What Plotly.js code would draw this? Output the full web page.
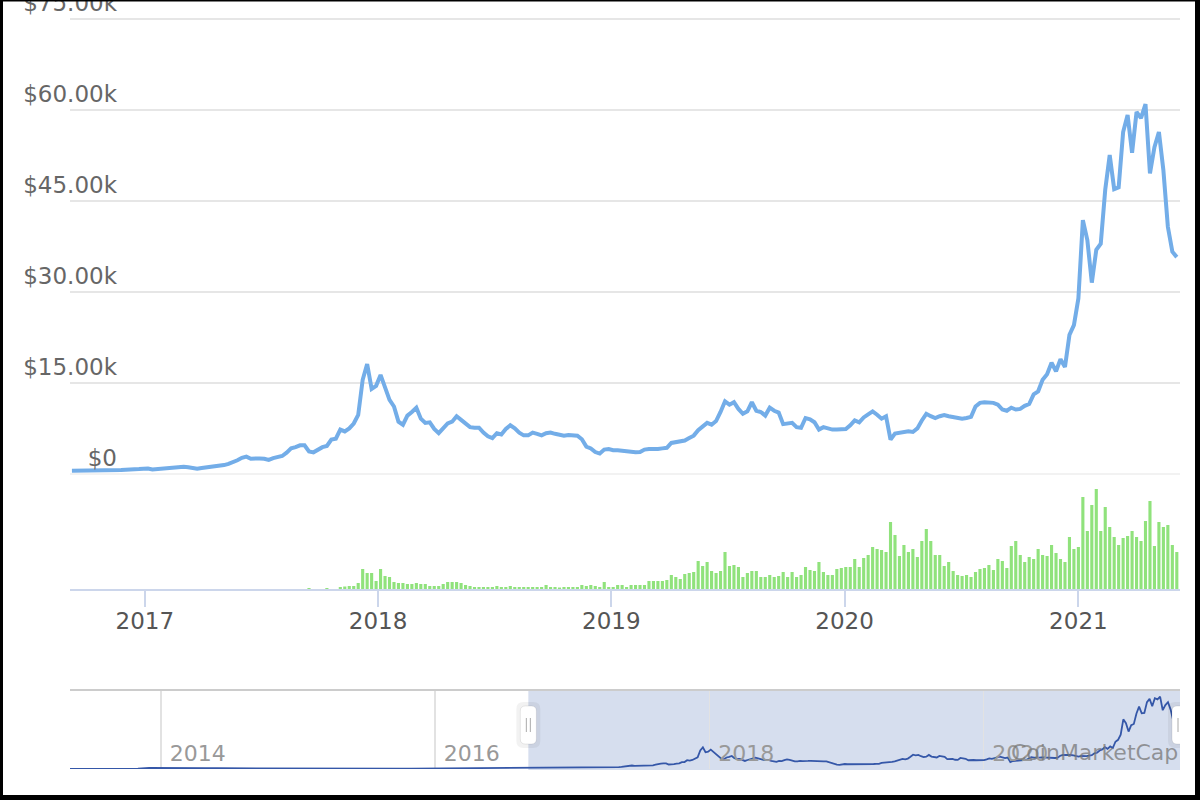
<!DOCTYPE html>
<html><head><meta charset="utf-8">
<script src="https://cdn.plot.ly/plotly-3.0.1.min.js"></script>
<style>html,body{margin:0;padding:0;background:#fff;}#chart{width:1200px;height:800px;}</style>
</head><body><div id="chart"></div>
<script>
// ---- data (weekly, starting Friday 2016-09-09) ----
const weekStart = '2016-09-09';
const price = [
  610, 607, 602, 609, 617, 640, 632, 690, 705, 715,
  750, 740, 770, 770, 785, 900, 965, 1000, 830, 900,
  920, 1010, 1000, 1050, 1180, 1260, 1200, 1100, 960, 1080,
  1180, 1200, 1250, 1400, 1550, 1750, 2000, 2350, 2750, 2950,
  2600, 2700, 2650, 2600, 2400, 2700, 2900, 3050, 3600, 4300,
  4500, 4800, 4800, 3800, 3650, 4100, 4500, 4700, 5750, 5900,
  7400, 7100, 7600, 8400, 9800, 15600, 18200, 14100, 14600, 16400,
  14500, 12300, 11200, 8700, 8200, 9700, 10300, 11000, 9200, 8500,
  8600, 7500, 6800, 7600, 8400, 8700, 9600, 9000, 8300, 7800,
  7700, 7700, 6900, 6300, 6000, 6800, 6600, 7500, 8100, 7600,
  6900, 6450, 6450, 6900, 6700, 6450, 6800, 6900, 6700, 6500,
  6400, 6500, 6450, 6400, 5800, 4600, 4300, 3700, 3450, 4100,
  4200, 4000, 4000, 3900, 3800, 3700, 3650, 3700, 4100, 4200,
  4150, 4200, 4300, 4400, 5200, 5300, 5500, 5600, 6000, 6400,
  7300, 8000, 8500, 8200, 8800, 10300, 12050, 11500, 11900, 10800,
  10000, 10400, 11900, 10500, 10300, 9700, 11000, 10500, 10200, 8300,
  8400, 8500, 7800, 7700, 9300, 9100, 8600, 7400, 7800, 7600,
  7400, 7400, 7400, 7500, 8100, 8900, 8600, 9400, 9900, 10400,
  9850, 9200, 9600, 5750, 6750, 6900, 7100, 7100, 7000, 7600,
  8900, 10000, 9600, 9300, 9600, 9800, 9600, 9500, 9300, 9200,
  9300, 9500, 11200, 11800, 11900, 11900, 11800, 11500, 10700, 10500,
  11000, 10700, 10800, 11300, 11600, 13200, 13700, 15600, 16500, 18400,
  17000, 19000, 17700, 23000, 24600, 29000, 41900, 38600, 31600, 37000,
  38000, 46900, 52600, 47000, 47300, 56400, 59200, 53000, 59700, 58700,
  61000, 49600, 53900, 56400, 50100, 40800, 36700, 35800
];
// relative weekly volume (no axis in the reference)
const volume = [
  0, 0, 0, 0, 0, 0, 0, 0, 0, 0,
  0, 0, 0, 0, 0, 0, 0, 0, 0, 0,
  0, 0, 0, 0, 0, 0, 0, 0, 0, 0,
  0, 0, 0, 0, 0, 0, 0, 0, 0, 0,
  0, 0, 0, 0, 0, 0, 0, 0, 0, 0,
  0, 0, 0, 1, 0, 0, 0, 1, 0, 0,
  2, 2.5, 3, 3, 6, 20, 16, 16, 8, 20,
  13, 12, 7, 6, 6, 5, 5, 6, 5, 5,
  3, 3, 3, 5, 7, 7, 7, 6, 4, 3,
  2, 2, 2, 2, 2, 3, 2, 2, 3, 2,
  2, 2, 2, 2, 2, 2, 4, 2, 2, 1.5,
  2, 2, 2, 2, 4, 3, 4, 3, 2, 7,
  2, 2, 4, 4, 2, 4, 4, 4, 4, 8,
  8, 8, 8, 9, 14, 12, 10, 15, 16, 17,
  28, 23, 27, 18, 16, 18, 37, 23, 24, 22,
  12, 16, 18, 18, 12, 12, 14, 12, 13, 17,
  12, 17, 12, 14, 22, 19, 18, 27, 17, 14,
  14, 20, 21, 22, 22, 30, 22, 31, 34, 42,
  40, 39, 37, 67, 54, 33, 44, 37, 40, 32,
  48, 60, 48, 34, 34, 23, 27, 18, 14, 13,
  14, 12, 17, 20, 21, 24, 19, 30, 28, 21,
  43, 48, 34, 27, 32, 30, 40, 34, 33, 44,
  36, 30, 27, 52, 40, 42, 92, 58, 84, 100,
  58, 82, 62, 52, 44, 51, 53, 58, 52, 48,
  68, 88, 43, 67, 62, 64, 44, 37
];
// navigator history before the weekly series (monthly)
const earlyDates = ['2013-05-04','2013-06-01','2013-07-01','2013-08-01','2013-09-01','2013-10-01','2013-11-01','2013-12-01',
  '2014-01-01','2014-02-01','2014-03-01','2014-04-01','2014-05-01','2014-06-01','2014-07-01','2014-08-01','2014-09-01','2014-10-01','2014-11-01','2014-12-01',
  '2015-01-01','2015-02-01','2015-03-01','2015-04-01','2015-05-01','2015-06-01','2015-07-01','2015-08-01','2015-09-01','2015-10-01','2015-11-01','2015-12-01',
  '2016-01-01','2016-02-01','2016-03-01','2016-04-01','2016-05-01','2016-06-01','2016-07-01','2016-08-01'];
const earlyPrice = [115, 129, 97, 106, 135, 133, 200, 1000,
  830, 580, 460, 450, 630, 640, 590, 480, 390, 340, 380, 320,
  220, 255, 245, 235, 230, 265, 285, 230, 237, 315, 380, 430,
  370, 437, 416, 448, 531, 670, 625, 575];
const priceTicks = [0, 15000, 30000, 45000, 60000, 75000];
const priceTickText = ['$0', '$15.00k', '$30.00k', '$45.00k', '$60.00k', '$75.00k'];
const mainRange = ['2016-09-06', '2021-06-09'];
const navRange = ['2013-05-04', '2021-06-08'];
const brandText = 'CoinMarketCap';

// ---- helpers ----
function weekDates(start, n) {
  const t0 = Date.parse(start + 'T00:00:00Z');
  const out = [];
  for (let i = 0; i < n; i++) out.push(new Date(t0 + i * 7 * 86400000).toISOString().slice(0, 10));
  return out;
}
const dates = weekDates(weekStart, price.length);
const navDates = earlyDates.concat(dates);
const navPrice = earlyPrice.concat(price);

const W = 1200, H = 800;
const px = v => v / W;
const py = v => 1 - v / H;

const traces = [
  {type: 'bar', x: dates, y: volume, xaxis: 'x', yaxis: 'y2',
   marker: {color: '#90e27c', line: {width: 0}}, hoverinfo: 'skip'},
  {type: 'scatter', mode: 'lines', x: dates, y: price, xaxis: 'x', yaxis: 'y',
   line: {color: '#73ade8', width: 4, shape: 'linear'}, hoverinfo: 'skip', cliponaxis: false},
  {type: 'scatter', mode: 'lines', x: navDates, y: navPrice, xaxis: 'x3', yaxis: 'y3',
   line: {color: '#3557a8', width: 1.8}, hoverinfo: 'skip'}
];

function handle(xd) {
  const yc = py(725);
  return [
    {type: 'path', xref: 'x3', xsizemode: 'pixel', xanchor: xd, yref: 'paper', ysizemode: 'pixel', yanchor: yc,
     path: 'M -12 -16 Q -12 -23 -5 -23 L 5 -23 Q 12 -23 12 -16 L 12 16 Q 12 23 5 23 L -5 23 Q -12 23 -12 16 Z',
     fillcolor: 'rgba(0,0,0,0.05)', line: {width: 0}},
    {type: 'path', xref: 'x3', xsizemode: 'pixel', xanchor: xd, yref: 'paper', ysizemode: 'pixel', yanchor: yc,
     path: 'M -8 -14 Q -8 -19 -3 -19 L 3 -19 Q 8 -19 8 -14 L 8 14 Q 8 19 3 19 L -3 19 Q -8 19 -8 14 Z',
     fillcolor: '#ffffff', line: {color: 'rgba(0,0,0,0.08)', width: 1}},
    {type: 'line', xref: 'x3', xsizemode: 'pixel', xanchor: xd, x0: -2, x1: -2, yref: 'paper', ysizemode: 'pixel', yanchor: yc, y0: -7, y1: 7,
     line: {color: '#aaaaaa', width: 1}},
    {type: 'line', xref: 'x3', xsizemode: 'pixel', xanchor: xd, x0: 2, x1: 2, yref: 'paper', ysizemode: 'pixel', yanchor: yc, y0: -7, y1: 7,
     line: {color: '#aaaaaa', width: 1}}
  ];
}

const shapes = [
  // $0 grid line (Plotly omits the grid at the range edge)
  {type: 'line', xref: 'paper', yref: 'y', x0: px(70), x1: px(1180), y0: 0, y1: 0,
   line: {color: '#e6e6e6', width: 2}, layer: 'below'},
  {type: 'rect', xref: 'x3', yref: 'paper', x0: mainRange[0], x1: navRange[1], y0: py(770), y1: py(690),
   fillcolor: 'rgba(102,133,194,0.27)', line: {width: 0}, layer: 'below'},
  {type: 'line', xref: 'paper', yref: 'paper', x0: px(70), x1: px(1180), y0: py(690), y1: py(690),
   line: {color: '#cccccc', width: 2}},
  ...handle(mainRange[0]),
  ...handle(navRange[1]),
  // page frame
  {type: 'rect', xref: 'paper', yref: 'paper', x0: 0, x1: px(3), y0: 0, y1: 1, fillcolor: '#000', line: {width: 0}},
  {type: 'rect', xref: 'paper', yref: 'paper', x0: px(1195), x1: 1, y0: 0, y1: 1, fillcolor: '#000', line: {width: 0}},
  {type: 'rect', xref: 'paper', yref: 'paper', x0: 0, x1: 1, y0: py(1.5), y1: 1, fillcolor: '#000', line: {width: 0}},
  {type: 'rect', xref: 'paper', yref: 'paper', x0: 0, x1: 1, y0: 0, y1: py(795), fillcolor: '#000', line: {width: 0}}
];

const layout = {
  width: W, height: H,
  margin: {l: 0, r: 0, t: 0, b: 0, autoexpand: false},
  paper_bgcolor: '#ffffff', plot_bgcolor: 'rgba(0,0,0,0)',
  showlegend: false, bargap: 0.3, dragmode: false,
  font: {family: 'DejaVu Sans, sans-serif'},
  xaxis: {domain: [px(70), px(1180)], anchor: 'y2', type: 'date', range: mainRange,
    showgrid: false, zeroline: false, showline: true, linecolor: '#ccd6eb', linewidth: 2,
    ticks: 'outside', ticklen: 16, tickwidth: 2, tickcolor: '#ccd6eb', ticklabelstandoff: -6,
    tick0: '2017-01-01', dtick: 'M12', tickformat: '%Y',
    tickfont: {size: 23, color: '#555555'}, fixedrange: true},
  yaxis: {domain: [py(474.5), 1], anchor: 'x', range: [0, 78150],
    tickmode: 'array', tickvals: priceTicks, ticktext: priceTickText,
    showgrid: true, gridcolor: '#e6e6e6', gridwidth: 2, zeroline: false, showline: false,
    ticks: '', ticklabelposition: 'outside top', ticklabelstandoff: -48, ticklabeloverflow: 'allow',
    tickfont: {size: 23, color: '#666666'}, fixedrange: true},
  yaxis2: {domain: [py(589), py(480)], anchor: 'x', range: [0, 109], visible: false, fixedrange: true},
  xaxis3: {domain: [px(70), px(1180)], anchor: 'y3', type: 'date', range: navRange,
    showgrid: true, gridcolor: '#e2e2e2', gridwidth: 1.5, zeroline: false, showline: false,
    tick0: '2014-01-01', dtick: 'M24', tickformat: '%Y', ticks: '',
    ticklabelposition: 'inside right', ticklabelshift: 9, ticklabelstandoff: -2,
    tickfont: {size: 22, color: '#999999'}, fixedrange: true},
  yaxis3: {domain: [py(769), py(690)], anchor: 'x3', range: [0, 66650], showgrid: false,
    showticklabels: false, zeroline: false, ticks: '', fixedrange: true},
  shapes: shapes,
  annotations: [
    {text: brandText, xref: 'paper', yref: 'paper', x: px(1180), y: py(752), xanchor: 'right', yanchor: 'middle',
     showarrow: false, font: {size: 22, color: 'rgba(120,120,120,0.75)', family: 'DejaVu Sans, sans-serif'}}
  ]
};

Plotly.newPlot('chart', traces, layout, {displayModeBar: false, staticPlot: true});
</script></body></html>
